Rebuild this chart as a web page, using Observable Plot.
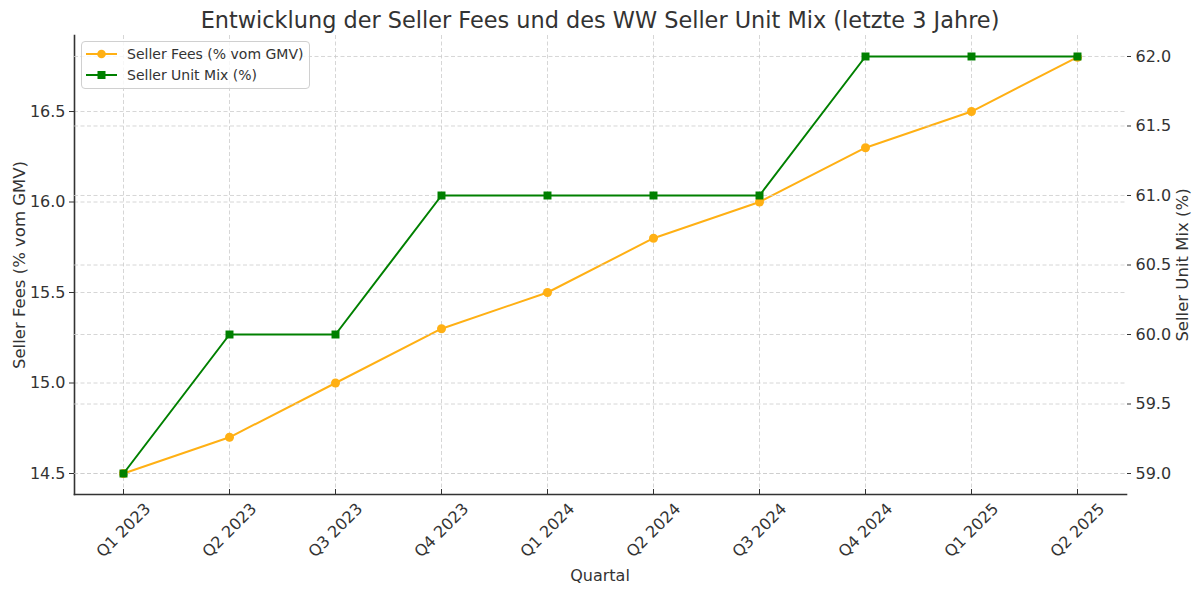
<!DOCTYPE html>
<html>
<head>
<meta charset="utf-8">
<script src="https://cdn.jsdelivr.net/npm/d3@7"></script>
<script src="https://cdn.jsdelivr.net/npm/@observablehq/plot@0.6"></script>
<style>
  body { margin: 0; background: #fff; font-family: "DejaVu Sans", sans-serif; }
  #wrap { position: relative; width: 1200px; height: 595px; overflow: hidden; }
  #wrap svg { position: absolute; left: 0; top: 0; background: transparent !important; }
  .t { position: absolute; color: #333; white-space: nowrap; }
  #legend { position: absolute; left: 81px; top: 41px; width: 227px; height: 46px;
    border: 1px solid #d0d0d0; border-radius: 4px; background: rgba(255,255,255,0.8); }
  .row { position: absolute; left: 4px; height: 20px; display: flex; align-items: center; font-size: 14px; color: #333; }
  .row svg { position: static !important; margin-right: 10px; }
</style>
</head>
<body>
<div id="wrap"></div>
<script>
const quarters = ["Q1 2023","Q2 2023","Q3 2023","Q4 2023","Q1 2024","Q2 2024","Q3 2024","Q4 2024","Q1 2025","Q2 2025"];
const sellerFees = [14.5, 14.7, 15.0, 15.3, 15.5, 15.8, 16.0, 16.3, 16.5, 16.8];
const unitMix = [59, 60, 60, 61, 61, 61, 61, 62, 62, 62];
const feeTicks = [14.5, 15.0, 15.5, 16.0, 16.5];
const mixTicks = [59.0, 59.5, 60.0, 60.5, 61.0, 61.5, 62.0];

const ORANGE = "#ffb014";
const GREEN = "#008000";
const TXT = "#333";
const GRID = "#cccccc";

const feeData = quarters.map((q, i) => ({q, v: sellerFees[i]}));
const mixData = quarters.map((q, i) => ({q, v: unitMix[i]}));

const common = {
  width: 1200, height: 595,
  marginLeft: 74, marginRight: 74, marginTop: 35, marginBottom: 101,
  style: {fontFamily: "DejaVu Sans, sans-serif", fontSize: "16px", color: TXT, background: "transparent", overflow: "visible"},
  x: {type: "point", domain: quarters, padding: 0, inset: 48, axis: null}
};

const p1 = Plot.plot({
  ...common,
  y: {domain: [14.384, 16.92], axis: null},
  marks: [
    Plot.gridX(quarters, {stroke: GRID, strokeOpacity: 1, strokeWidth: 0.8, strokeDasharray: "4,2.5"}),
    Plot.gridY(feeTicks, {stroke: GRID, strokeOpacity: 1, strokeWidth: 0.8, strokeDasharray: "4,2.5"}),
    Plot.axisY(feeTicks, {anchor: "left", tickSize: 5, tickPadding: 4, tickFormat: d3.format(".1f"), label: null, stroke: TXT, fill: TXT, fontSize: 16}),
    Plot.axisX(quarters, {anchor: "bottom", tickSize: -5, tickFormat: () => "", label: null, stroke: TXT}),
    Plot.text(quarters, {x: d => d, text: d => d, frameAnchor: "bottom", dy: 36, rotate: -45, textAnchor: "middle", lineAnchor: "middle", fontSize: 16, fill: TXT}),
    Plot.frame({anchor: "left", stroke: TXT, strokeWidth: 1.6}),
    Plot.frame({anchor: "bottom", stroke: TXT, strokeWidth: 1.6}),
    Plot.line(feeData, {x: "q", y: "v", stroke: ORANGE, strokeWidth: 2}),
    Plot.dot(feeData, {x: "q", y: "v", fill: ORANGE, r: 4.5, symbol: "circle"})
  ]
});

const p2 = Plot.plot({
  ...common,
  y: {domain: [58.849, 62.151], axis: null},
  marks: [
    Plot.gridY(mixTicks, {stroke: GRID, strokeOpacity: 1, strokeWidth: 0.8, strokeDasharray: "4,2.5"}),
    Plot.axisY(mixTicks, {anchor: "right", tickSize: 4, tickPadding: 5, tickFormat: d3.format(".1f"), label: null, stroke: TXT, fill: TXT, fontSize: 16}),
    Plot.line(mixData, {x: "q", y: "v", stroke: GREEN, strokeWidth: 2}),
    Plot.dot(mixData, {x: "q", y: "v", fill: GREEN, r: 4.5, symbol: "square"})
  ]
});

const wrap = document.getElementById("wrap");
wrap.appendChild(p1);
wrap.appendChild(p2);

function addText(txt, css) {
  const d = document.createElement("div");
  d.className = "t";
  d.textContent = txt;
  Object.assign(d.style, css);
  wrap.appendChild(d);
  return d;
}
addText("Entwicklung der Seller Fees und des WW Seller Unit Mix (letzte 3 Jahre)",
  {left: "600px", top: "20px", transform: "translate(-50%,-50%)", fontSize: "22.4px"});
addText("Quartal", {left: "600px", top: "575px", transform: "translate(-50%,-50%)", fontSize: "16px"});
addText("Seller Fees (% vom GMV)", {left: "19px", top: "265px", transform: "translate(-50%,-50%) rotate(-90deg)", fontSize: "16.5px"});
addText("Seller Unit Mix (%)", {left: "1182px", top: "265px", transform: "translate(-50%,-50%) rotate(-90deg)", fontSize: "16.5px"});

// legend
const legend = document.createElement("div");
legend.id = "legend";
const entries = [
  {label: "Seller Fees (% vom GMV)", color: ORANGE, sym: "circle"},
  {label: "Seller Unit Mix (%)", color: GREEN, sym: "square"}
];
entries.forEach((e, i) => {
  const row = document.createElement("div");
  row.className = "row";
  row.style.top = (i === 0 ? 2 : 23) + "px";
  const ns = "http://www.w3.org/2000/svg";
  const s = document.createElementNS(ns, "svg");
  s.setAttribute("width", 31); s.setAttribute("height", 12);
  const l = document.createElementNS(ns, "line");
  l.setAttribute("x1", 0); l.setAttribute("x2", 31); l.setAttribute("y1", 6); l.setAttribute("y2", 6);
  l.setAttribute("stroke", e.color); l.setAttribute("stroke-width", 2);
  s.appendChild(l);
  let m;
  if (e.sym === "circle") {
    m = document.createElementNS(ns, "circle");
    m.setAttribute("cx", 15.5); m.setAttribute("cy", 6); m.setAttribute("r", 4.3);
  } else {
    m = document.createElementNS(ns, "rect");
    m.setAttribute("x", 11.5); m.setAttribute("y", 2); m.setAttribute("width", 8); m.setAttribute("height", 8);
  }
  m.setAttribute("fill", e.color);
  s.appendChild(m);
  row.appendChild(s);
  const t = document.createElement("span");
  t.textContent = e.label;
  row.appendChild(t);
  legend.appendChild(row);
});
wrap.appendChild(legend);
</script>
</body>
</html>
